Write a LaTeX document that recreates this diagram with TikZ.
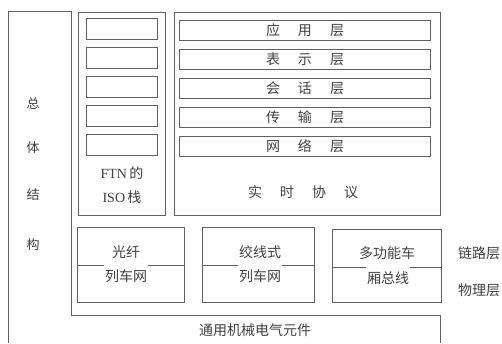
\documentclass[tikz,border=0pt]{standalone}
\usepackage{fontspec}
\setmainfont{Liberation Serif}
\newfontfamily\cjk{Noto Sans CJK SC}
\begin{document}
\begin{tikzpicture}[x=1pt,y=-1pt,
  line/.style={draw=black!62, line width=0.8pt},
  rect/.style={line, rectangle, inner sep=0pt},
  lbl/.style={font=\cjk\fontsize{14}{16}\selectfont, text=black!75, inner sep=1pt},
  slbl/.style={font=\cjk\fontsize{13}{15}\selectfont, text=black!75, inner sep=1pt},
  cut/.style={lbl, fill=white, inner xsep=1pt, inner ysep=6pt}]
\useasboundingbox (0,0) rectangle (502,343);
% outer L-shaped frame
\draw[line] (8,343) -- (8,11) -- (71,11) -- (71,315) -- (440,315) -- (440,343);
\node[slbl] (z1) at (33,103) {总};
\node[slbl] (z2) at (33,148) {体};
\node[slbl] (z3) at (33,195) {结};
\node[slbl] (z4) at (33,245) {构};
% ISO stack
\node[rect, minimum width=87pt, minimum height=203pt] (iso) at (121.5,113.5) {};
\foreach \i in {0,...,4}{
  \node[rect, minimum width=71pt, minimum height=21pt] (s\i) at (121.5,29+29*\i) {};
}
\node[lbl, font=\fontsize{14}{16}\selectfont] (ftn) at (122,173) {FTN\,{\cjk 的}};
\node[lbl, font=\fontsize{14}{16}\selectfont] (isoz) at (122,197) {ISO\,{\cjk 栈}};
% real-time protocol
\node[rect, minimum width=266pt, minimum height=203pt] (rt) at (307,113.5) {};
\foreach \i/\t in {0/{应\hspace{18pt}用\hspace{18pt}层},1/{表\hspace{18pt}示\hspace{18pt}层},2/{会\hspace{18pt}话\hspace{18pt}层},3/{传\hspace{18pt}输\hspace{18pt}层},4/{网\hspace{18pt}络\hspace{18pt}层}}{
  \node[rect, minimum width=251pt, minimum height=20pt] (r\i) at (304.5,30+29*\i) {};
  \node[lbl] (rl\i) at (305,30+29*\i) {\t};
}
\node[lbl] (rtl) at (303,192) {实\hspace{18pt}时\hspace{18pt}协\hspace{18pt}议};
% bus boxes
\node[rect, minimum width=107pt, minimum height=75pt] (b1) at (130.5,264.5) {};
\draw[line] (b1.west |- 0,265) -- (b1.east |- 0,265);
\node[lbl] (b1a) at (126,252) {光纤};
\node[cut] (b1b) at (126,276) {列车网};
\node[rect, minimum width=112pt, minimum height=75pt] (b2) at (258,264.5) {};
\draw[line] (b2.west |- 0,265) -- (b2.east |- 0,265);
\node[lbl] (b2a) at (260,252) {绞线式};
\node[cut] (b2b) at (260,276) {列车网};
\node[rect, minimum width=109pt, minimum height=73pt] (b3) at (386.5,265.5) {};
\draw[line] (b3.west |- 0,267) -- (b3.east |- 0,267);
\node[lbl] (b3a) at (387,253) {多功能车};
\node[cut] (b3b) at (388,278) {厢总线};
% right labels
\node[lbl] (link) at (479,253) {链路层};
\node[lbl] (phys) at (479,290) {物理层};
% bottom
\node[lbl] (bot) at (255,330) {通用机械电气元件};
\end{tikzpicture}
\end{document}
